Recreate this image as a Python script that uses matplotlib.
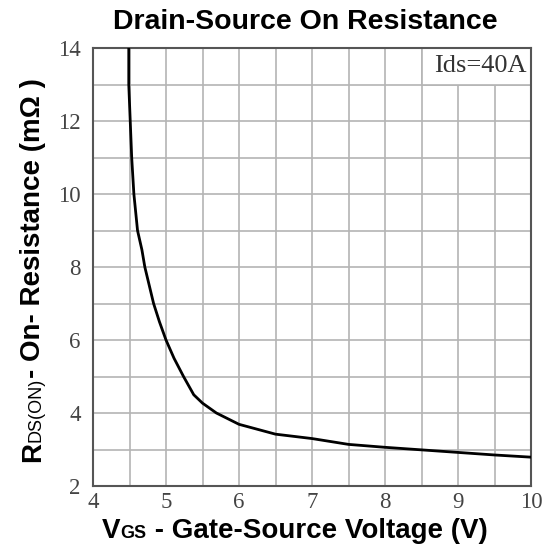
import matplotlib
matplotlib.use('Agg')
import matplotlib.pyplot as plt
from matplotlib.patches import Rectangle

# curve
vgs = [4.49, 4.49, 4.50, 4.51, 4.53, 4.56, 4.61, 4.67, 4.71, 4.83, 4.91, 5.0,
       5.11, 5.24, 5.38, 5.5, 5.69, 6.0, 6.5, 7.0, 7.5, 8.0, 8.5, 9.0, 9.5, 10.0]
rds = [14.0, 13.0, 12.5, 12.0, 11.0, 10.0, 9.0, 8.47, 8.0, 7.0, 6.5, 6.0,
       5.5, 5.0, 4.5, 4.27, 4.0, 3.69, 3.42, 3.30, 3.14, 3.06, 2.99, 2.92, 2.85, 2.79]

x_ticks = [4, 5, 6, 7, 8, 9, 10]
y_ticks = [2, 4, 6, 8, 10, 12, 14]
note = 'Ids=40A'

W, H = 549, 552
fig = plt.figure(figsize=(W / 100, H / 100), dpi=100)
ax = fig.add_axes([93 / W, 1 - 486 / H, 438 / W, 438 / H])

ax.plot(vgs, rds, color='black', lw=2, zorder=5)

ax.set_xlim(4, 10)
ax.set_ylim(2, 14)
ax.set_xticks(x_ticks)
ax.set_yticks(y_ticks)
ax.set_xticks([v + 0.5 for v in x_ticks[:-1]], minor=True)
ax.set_yticks([v + 1 for v in y_ticks[:-1]], minor=True)
ax.grid(which='both', color='#b4b4b4', lw=1.2, zorder=0)
ax.tick_params(which='both', length=0)
ax.tick_params(axis='x', pad=4)
ax.tick_params(axis='y', pad=9)
for lab in ax.get_xticklabels() + ax.get_yticklabels():
    lab.set_fontfamily('Liberation Serif')
    lab.set_fontsize(16.5)
    lab.set_color('#444444')
for sp in ax.spines.values():
    sp.set_color('#555555')
    sp.set_linewidth(1.5)

# note box in the top right cell
ax.add_patch(Rectangle((8.5, 13), 1.5, 1, facecolor='white', edgecolor='#b4b4b4',
                       lw=1.2, zorder=2))
ax.text(9.3, 13.5, note, ha='center', va='center', fontsize=19,
        family='Liberation Serif', color='#333333', zorder=3)

fig.text(305.5 / W, 1 - 22 / H, 'Drain-Source On Resistance', ha='center', va='center',
         fontsize=20.5, fontweight='bold', family='Liberation Sans')


def label_pieces(x, y, pieces, vertical=False):
    r = fig.canvas.get_renderer()
    for s, size, weight in pieces:
        t = fig.text(x, y, s, fontsize=size, fontweight=weight, family='Liberation Sans',
                     ha='left', va='baseline', rotation=90 if vertical else 0,
                     rotation_mode='anchor')
        bb = t.get_window_extent(r)
        if vertical:
            y += bb.height / fig.bbox.height
        else:
            x += bb.width / fig.bbox.width


label_pieces(102 / W, 1 - 538 / H,
             [('V', 20, 'bold'), ('GS', 13, 'bold'),
              (' - Gate-Source Voltage (V)', 20, 'bold')])
label_pieces(40 / W, 1 - 462 / H,
             [('R', 20, 'bold'), ('DS(ON)', 13, 'normal'),
              ('- On- Resistance (m\u03a9 )', 20, 'bold')], vertical=True)

fig.savefig('out.png', dpi=100)
